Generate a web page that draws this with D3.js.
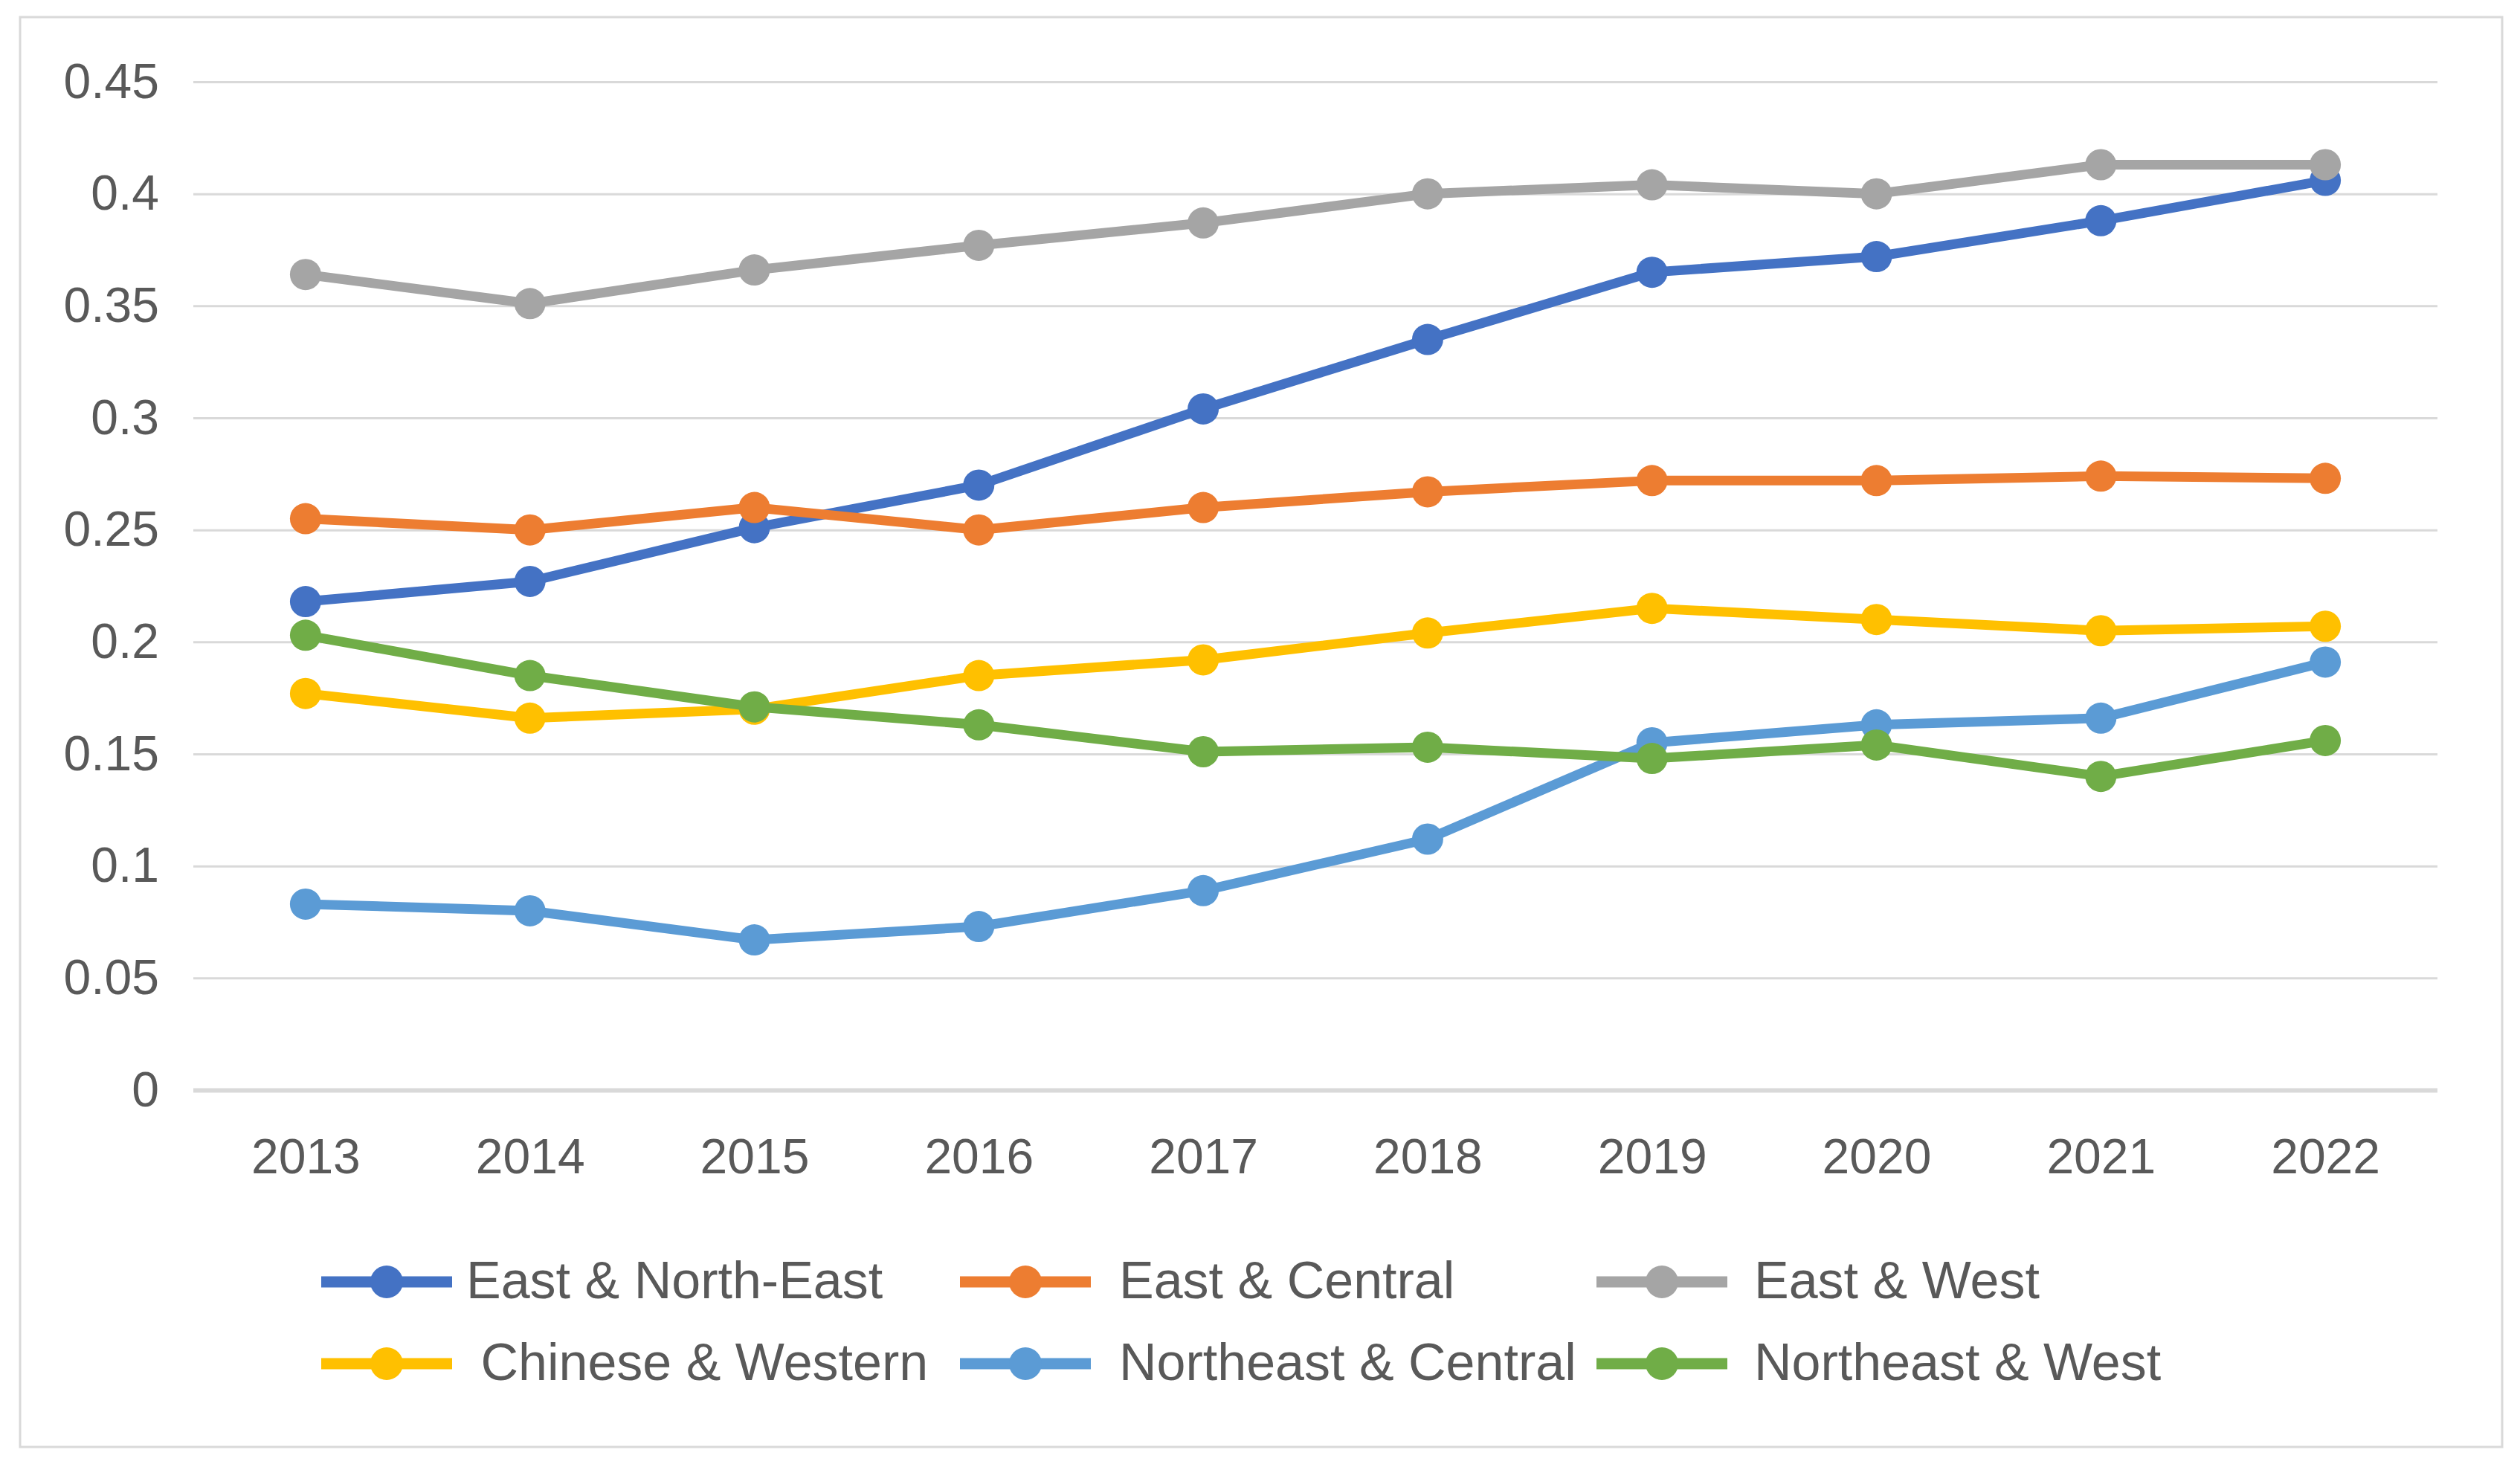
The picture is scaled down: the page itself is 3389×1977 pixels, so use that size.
<!DOCTYPE html>
<html>
<head>
<meta charset="utf-8">
<script src="https://cdn.jsdelivr.net/npm/d3@7"></script>
<style>
  html, body { margin: 0; padding: 0; background: #fff; }
  svg { display: block; }
</style>
</head>
<body>
<script>
// data
const years = ["2013", "2014", "2015", "2016", "2017", "2018", "2019", "2020", "2021", "2022"];
const seriesNames = ["East & North-East", "East & Central", "East & West",
                     " Chinese & Western", "Northeast & Central", "Northeast & West"];
const eastNorthEast    = [0.218, 0.227, 0.251, 0.270, 0.304, 0.335, 0.365, 0.372, 0.388, 0.406];
const eastCentral      = [0.255, 0.250, 0.260, 0.250, 0.260, 0.267, 0.272, 0.272, 0.274, 0.273];
const eastWest         = [0.364, 0.351, 0.366, 0.377, 0.387, 0.400, 0.404, 0.400, 0.413, 0.413];
const chineseWestern   = [0.177, 0.166, 0.170, 0.185, 0.192, 0.204, 0.215, 0.210, 0.205, 0.207];
const northeastCentral = [0.083, 0.080, 0.067, 0.073, 0.089, 0.112, 0.155, 0.163, 0.166, 0.191];
const northeastWest    = [0.203, 0.185, 0.171, 0.163, 0.151, 0.153, 0.148, 0.154, 0.140, 0.156];
const yTicks = [0, 0.05, 0.1, 0.15, 0.2, 0.25, 0.3, 0.35, 0.4, 0.45];

const colors = ["#4472C4", "#ED7D31", "#A5A5A5", "#FFC000", "#5B9BD5", "#70AD47"];
const allValues = [eastNorthEast, eastCentral, eastWest, chineseWestern, northeastCentral, northeastWest];

const series = seriesNames.map((name, i) => ({
  name: name,
  color: colors[i],
  values: years.map((yr, j) => ({ year: yr, value: allValues[i][j] }))
}));

const W = 3389, H = 1977;
const plotLeft = 260, plotRight = 3278, plotTop = 110, plotBottom = 1466;
const font = "'Liberation Sans', Arial, sans-serif";
const textColor = "#595959";

const svg = d3.select("body").append("svg")
  .attr("width", W)
  .attr("height", H)
  .attr("viewBox", `0 0 ${W} ${H}`);

svg.append("rect").attr("width", W).attr("height", H).attr("fill", "#fff");

// chart frame
svg.append("rect")
  .attr("x", 27).attr("y", 23)
  .attr("width", 3365 - 27).attr("height", 1946 - 23)
  .attr("fill", "none")
  .attr("stroke", "#d9d9d9")
  .attr("stroke-width", 3);

const x = d3.scalePoint().domain(years).range([plotLeft, plotRight]).padding(0.5);
const y = d3.scaleLinear().domain([0, 0.45]).range([plotBottom, plotTop]);

// y axis + gridlines
const yAxis = svg.append("g")
  .attr("transform", `translate(${plotLeft},0)`)
  .call(d3.axisLeft(y)
    .tickValues(yTicks)
    .tickFormat(d => String(d))
    .tickSize(-(plotRight - plotLeft))
    .tickPadding(46));
yAxis.select(".domain").remove();
yAxis.selectAll(".tick line")
  .attr("stroke", "#d9d9d9")
  .attr("stroke-width", d => d === 0 ? 6 : 3);
yAxis.selectAll(".tick text")
  .attr("fill", textColor)
  .style("font-family", font)
  .style("font-size", "66px");

// x axis
const xAxis = svg.append("g")
  .attr("transform", `translate(0,${plotBottom})`)
  .call(d3.axisBottom(x).tickSize(0).tickPadding(65));
xAxis.select(".domain").remove();
xAxis.selectAll(".tick text")
  .attr("fill", textColor)
  .style("font-family", font)
  .style("font-size", "66px");

// lines and markers
const line = d3.line()
  .x(d => x(d.year))
  .y(d => y(d.value));

const g = svg.append("g");
series.forEach(s => {
  const sg = g.append("g");
  sg.append("path")
    .datum(s.values)
    .attr("d", line)
    .attr("fill", "none")
    .attr("stroke", s.color)
    .attr("stroke-width", 13)
    .attr("stroke-linejoin", "round")
    .attr("stroke-linecap", "round");
  sg.selectAll("circle")
    .data(s.values)
    .join("circle")
    .attr("cx", d => x(d.year))
    .attr("cy", d => y(d.value))
    .attr("r", 21)
    .attr("fill", s.color);
});

// legend
const legendCols = [432, 1291, 2147];
const legendTextX = [627, 1505, 2359];
const legendRows = [1724, 1834];
const legend = svg.append("g");
series.forEach((s, i) => {
  const col = i % 3;
  const ly = legendRows[Math.floor(i / 3)];
  const item = legend.append("g").attr("transform", `translate(0,${ly})`);
  item.append("line")
    .attr("x1", legendCols[col]).attr("x2", legendCols[col] + 176)
    .attr("y1", 0).attr("y2", 0)
    .attr("stroke", s.color)
    .attr("stroke-width", 15);
  item.append("circle")
    .attr("cx", legendCols[col] + 88).attr("cy", 0).attr("r", 22)
    .attr("fill", s.color);
  item.append("text")
    .attr("x", legendTextX[col])
    .attr("y", 22)
    .attr("fill", textColor)
    .style("white-space", "pre")
    .style("font-family", font)
    .style("font-size", "70px")
    .text(s.name);
});
</script>
</body>
</html>
